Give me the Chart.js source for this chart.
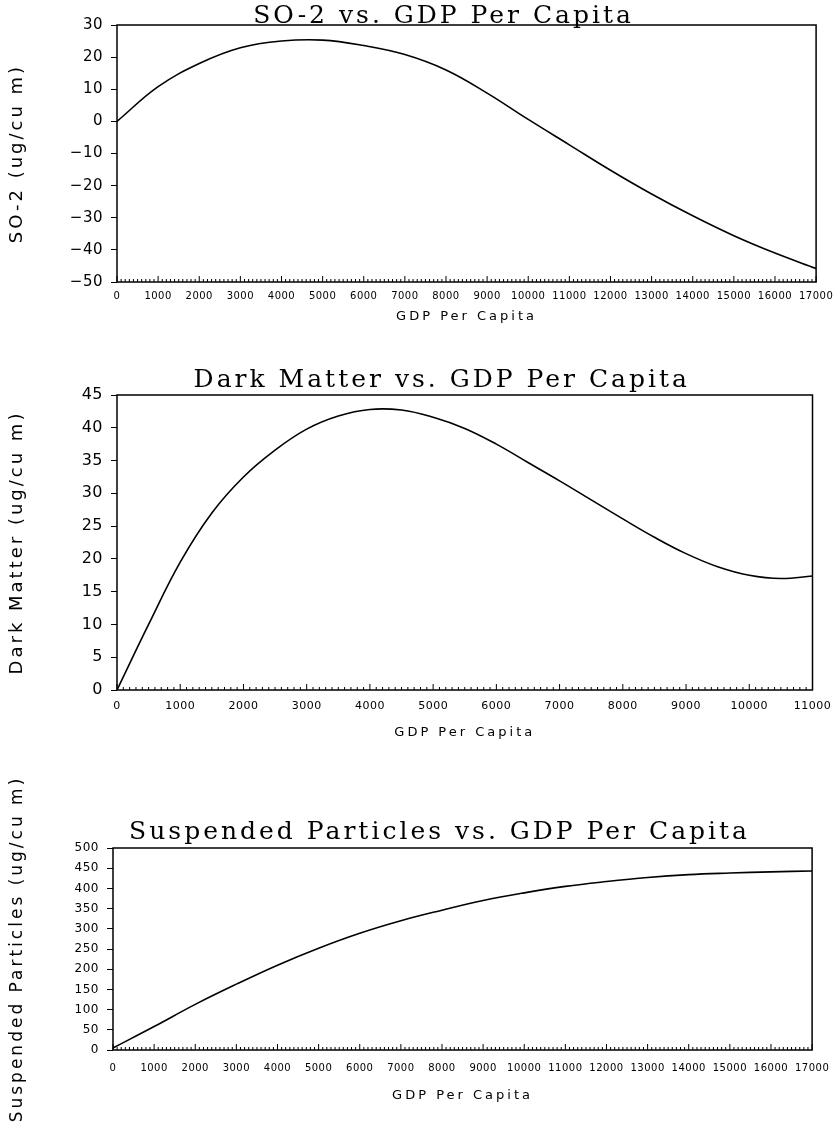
<!DOCTYPE html>
<html>
<head>
<meta charset="utf-8">
<script src="https://cdn.jsdelivr.net/npm/chart.js@4.4.1/dist/chart.umd.min.js"></script>
<style>
  html, body { margin: 0; padding: 0; background: #fff; }
  .box { position: absolute; left: 0; width: 840px; }
</style>
</head>
<body>
<div class="box" style="top:0;height:345px"><canvas id="chart-1"></canvas></div>
<div class="box" style="top:345px;height:405px"><canvas id="chart-2"></canvas></div>
<div class="box" style="top:750px;height:384px"><canvas id="chart-3"></canvas></div>
<script>
// Valeurs (GDP par habitant en x)
const gdpSo2 = [0, 1000, 2000, 3000, 4000, 5000, 6000, 7000, 8000, 9000,
  10000, 11000, 12000, 13000, 14000, 15000, 16000, 17000];
const so2 = [0, 10.8, 18.0, 22.9, 25.0, 25.3, 23.6, 20.8, 16.0, 8.8,
  0.6, -7.3, -15.2, -22.6, -29.4, -35.6, -41.0, -45.8];

const gdpDark = [0, 500, 1000, 1500, 2000, 2500, 3000, 3500, 4000, 4500, 5000, 5500,
  6000, 6500, 7000, 7500, 8000, 8500, 9000, 9500, 10000, 10500, 11000];
const dark = [0, 10, 19.5, 27, 32.5, 36.6, 39.8, 41.8, 42.8, 42.7, 41.6, 39.9,
  37.5, 34.7, 31.9, 29.0, 26.1, 23.3, 20.8, 18.8, 17.5, 17.0, 17.4];

const gdpSusp = [0, 1000, 2000, 3000, 4000, 5000, 6000, 7000, 8000, 9000,
  10000, 11000, 12000, 13000, 14000, 15000, 16000, 17000];
const susp = [5, 58, 113, 163, 210, 252, 289, 320, 346, 370,
  389, 405, 417, 427, 434, 438, 441, 443];

// Etiquettes des axes
const xTicks17 = ['0', '1000', '2000', '3000', '4000', '5000', '6000', '7000', '8000', '9000',
  '10000', '11000', '12000', '13000', '14000', '15000', '16000', '17000'];
const xTicks11 = ['0', '1000', '2000', '3000', '4000', '5000', '6000', '7000', '8000', '9000',
  '10000', '11000'];
const so2YTicks = ['\u221250', '\u221240', '\u221230', '\u221220', '\u221210', '0', '10', '20', '30'];
const darkYTicks = ['0', '5', '10', '15', '20', '25', '30', '35', '40', '45'];
const suspYTicks = ['0', '50', '100', '150', '200', '250', '300', '350', '400', '450', '500'];

// espacement des lettres : titres d'abord, puis les graduations
const spacing = {
  id: 'spacing',
  afterLayout(chart, args, opts) {
    // le titre est un peu decale vers la gauche sur l'original
    const t = chart.titleBlock;
    if (t) t.left -= opts.shift;
  },
  beforeDraw(chart) { chart.ctx.letterSpacing = '3px'; },
  afterDatasetsDraw(chart) { chart.ctx.letterSpacing = '0.5px'; }
};

// cadre autour du graphe + petites graduations sur l'axe x
const frame = {
  id: 'frame',
  afterDraw(chart, args, opts) {
    const {ctx, chartArea: a, scales: {x}} = chart;
    ctx.save();
    ctx.strokeStyle = '#000';
    ctx.lineWidth = 1.5;
    ctx.strokeRect(a.left, a.top, a.right - a.left, a.bottom - a.top);
    ctx.lineWidth = 1;
    ctx.beginPath();
    for (let v = x.min; v <= x.max; v += opts.step) {
      const px = x.getPixelForValue(v);
      const len = v % 1000 === 0 ? 6 : 3;
      ctx.moveTo(px, a.bottom);
      ctx.lineTo(px, a.bottom - len);
    }
    ctx.stroke();
    ctx.restore();
  }
};

function makeChart(id, c) {
  return new Chart(document.getElementById(id).getContext('2d'), {
    type: 'line',
    data: {
      datasets: [{
        data: c.xs.map((x, i) => ({x: x, y: c.ys[i]})),
        borderColor: '#000',
        borderWidth: 1.6,
        pointRadius: 0,
        tension: 0.4,
      }],
    },
    options: {
      responsive: true,
      maintainAspectRatio: false,
      animation: false,
      layout: { padding: c.pad },
      plugins: {
        legend: { display: false },
        tooltip: { enabled: false },
        title: {
          display: true,
          text: c.title,
          fullSize: false,
          color: '#000',
          font: { family: 'DejaVu Serif', size: 25, weight: 'normal', lineHeight: 0.6 },
          padding: c.titlePad,
        },
        spacing: { shift: 46 },
        frame: { step: 100 },
      },
      scales: {
        x: {
          type: 'linear',
          min: 0,
          max: c.xMax,
          afterFit: (s) => { s.height = c.xH; },
          grid: { drawOnChartArea: false, drawTicks: false },
          border: { display: false },
          ticks: {
            stepSize: 1000,
            autoSkip: false,
            maxRotation: 0,
            padding: c.xTickPad,
            z: 1,
            color: '#000',
            font: { family: 'DejaVu Sans', size: c.xFont },
            callback: (v, i) => c.xLabels[i],
          },
          title: {
            display: true,
            text: 'GDP Per Capita',
            color: '#000',
            font: { family: 'DejaVu Sans', size: 13, lineHeight: 1.2 },
            padding: { top: 0, bottom: c.xTitlePad },
          },
        },
        y: {
          min: c.yMin,
          max: c.yMax,
          afterFit: (s) => { s.width = c.yW; },
          grid: { drawOnChartArea: false, tickLength: 6, color: '#000' },
          border: { display: false },
          ticks: {
            stepSize: c.yStep,
            padding: 8,
            z: 1,
            color: '#000',
            font: { family: 'DejaVu Sans', size: c.yFont },
            callback: (v, i) => c.yLabels[i],
          },
          title: {
            display: true,
            text: c.yTitle,
            color: '#000',
            font: { family: 'DejaVu Sans', size: c.yTitleSize, lineHeight: 1.2 },
            padding: { top: 1, bottom: 0 },
          },
        },
      },
    },
    plugins: [spacing, frame],
  });
}

const chart1 = makeChart('chart-1', {
  xs: gdpSo2, ys: so2, xLabels: xTicks17, yLabels: so2YTicks,
  title: 'SO-2 vs. GDP Per Capita', yTitle: 'SO-2 (ug/cu m)',
  xMax: 17000, yMin: -50, yMax: 30, yStep: 10,
  pad: { top: 0, left: 6, right: 0, bottom: 0 },
  titlePad: { top: 9, bottom: 1 },
  xH: 63, xTickPad: 8, xFont: 10, xTitlePad: 21,
  yW: 111, yFont: 15, yTitleSize: 18,
});

const chart2 = makeChart('chart-2', {
  xs: gdpDark, ys: dark, xLabels: xTicks11, yLabels: darkYTicks,
  title: 'Dark Matter vs. GDP Per Capita', yTitle: 'Dark Matter (ug/cu m)',
  xMax: 11000, yMin: 0, yMax: 45, yStep: 5,
  pad: { top: 0, left: 6, right: 0, bottom: 0 },
  titlePad: { top: 28, bottom: 7 },
  xH: 60, xTickPad: 10, xFont: 11, xTitlePad: 10,
  yW: 111, yFont: 16, yTitleSize: 18,
});

const chart3 = makeChart('chart-3', {
  xs: gdpSusp, ys: susp, xLabels: xTicks17, yLabels: suspYTicks,
  title: 'Suspended Particles vs. GDP Per Capita', yTitle: 'Suspended Particles (ug/cu m)',
  xMax: 17000, yMin: 0, yMax: 500, yStep: 50,
  pad: { top: 0, left: 6, right: 4, bottom: 0 },
  titlePad: { top: 75, bottom: 8 },
  xH: 84, xTickPad: 12, xFont: 10, xTitlePad: 31,
  yW: 107, yFont: 12, yTitleSize: 17,
});
</script>
</body>
</html>
